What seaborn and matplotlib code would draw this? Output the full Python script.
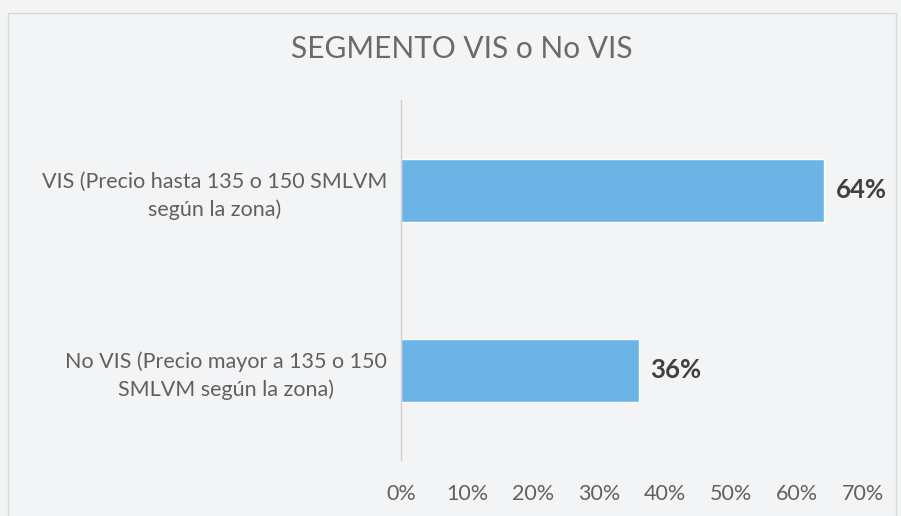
import matplotlib
matplotlib.use("Agg")
import matplotlib.pyplot as plt
import seaborn as sns
import pandas as pd
from matplotlib.patches import Rectangle
from matplotlib.ticker import FuncFormatter

categories = ["VIS (Precio hasta 135 o 150 SMLVM\nsegún la zona)",
              "No VIS (Precio mayor a 135 o 150\nSMLVM según la zona)"]
values = [64, 36]
value_labels = ["64%", "36%"]
x_ticks = [0, 10, 20, 30, 40, 50, 60, 70]
title = "SEGMENTO VIS o No VIS"

sns.set_theme(style="white")
plt.rcParams['font.family'] = ['Lato', 'DejaVu Sans']

bg = "#f3f4f6"
fig = plt.figure(figsize=(9.01, 5.16), dpi=100, facecolor=bg)
ax = fig.add_axes([0.445, 0.108, 0.513, 0.698])
ax.set_facecolor(bg)

df = pd.DataFrame({"cat": categories, "val": values})
sns.barplot(data=df, y="cat", x="val", orient="h", color="#6db4e6",
            saturation=1, width=0.35, ax=ax)

ax.set_xlim(0, 70)
ax.set_xticks(x_ticks)
ax.xaxis.set_major_formatter(FuncFormatter(lambda v, p: f"{int(v)}%"))
ax.set_xlabel("")
ax.set_ylabel("")
for s in ["top", "right", "bottom"]:
    ax.spines[s].set_visible(False)
ax.spines["left"].set_color("#d0d0d0")
ax.spines["left"].set_linewidth(1)
ax.tick_params(axis="x", labelsize=15.5, colors="#606060", length=0, pad=17)
ax.tick_params(axis="y", labelsize=15.5, colors="#606060", length=0, pad=10)
for lbl in ax.get_yticklabels():
    lbl.set_multialignment("center")
    lbl.set_linespacing(1.45)

for i, (v, t) in enumerate(zip(values, value_labels)):
    ax.text(v + 1.8, i, t, va="center", ha="left", fontsize=18.5,
            fontweight="bold", color="#404040")

fig.text(0.513, 0.905, title, ha="center", va="center", fontsize=21.5,
         color="#6a6a6a")

fig.patches.append(Rectangle((0.009, -0.05), 0.985, 1.025,
                             transform=fig.transFigure, fill=False,
                             edgecolor="#d8d8d8", linewidth=1))

fig.savefig("out.png", dpi=100, facecolor=bg)
